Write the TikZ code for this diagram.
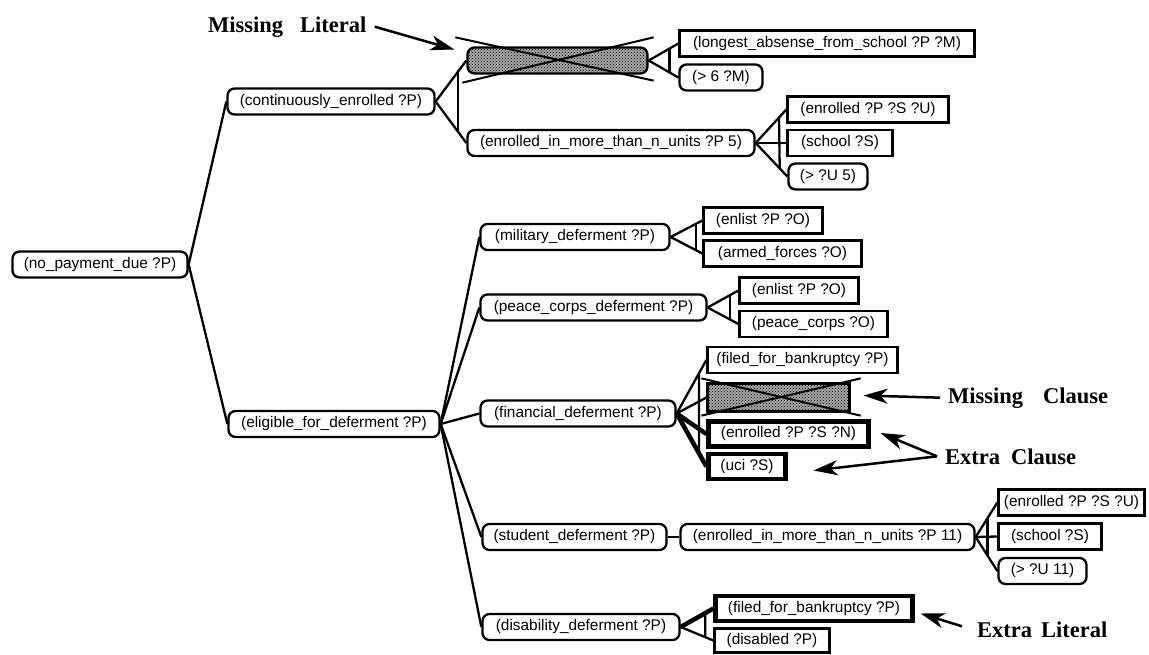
\documentclass[tikz,border=0pt]{standalone}
\usepackage{fontspec}
\setmainfont{Liberation Sans}
\newfontfamily\lblfont{Liberation Serif}
\usetikzlibrary{arrows.meta,calc,patterns}
\begin{document}
\begin{tikzpicture}[x=1pt,y=-1pt,
  every node/.style={font=\fontsize{15.4pt}{18pt}\selectfont, inner xsep=3pt, inner ysep=0pt},
  rbox/.style={draw, line width=2.3pt, rounded corners=7pt, minimum width=#1pt, minimum height=26pt},
  sbox/.style={draw, line width=2.3pt, minimum width=#1pt, minimum height=26pt},
  tbox/.style={draw, line width=4.2pt, minimum width=#1pt, minimum height=25pt},
  shade/.style={draw, line width=2.3pt, fill=gray!70, postaction={pattern=crosshatch dots, pattern color=black}},
  conn/.style={line width=2.3pt},
  tconn/.style={line width=4.5pt},
  xline/.style={line width=2pt},
  lbl/.style={font=\lblfont\bfseries\fontsize{22.5pt}{26pt}\selectfont, inner sep=0pt},
  arr/.style={line width=2.5pt, -{Stealth[length=24pt,width=15pt,inset=7pt]}}
]
\useasboundingbox (0,0) rectangle (1149,654);

% nodes
\node[rbox=175] (np) at (100,264.5) {(no\_payment\_due ?P)};
\node[rbox=207] (ce) at (331,101.5) {(continuously\_enrolled ?P)};
\node[rbox=211] (ef) at (334,424) {(eligible\_for\_deferment ?P)};

\node[shade, rounded corners=7pt, minimum width=180pt, minimum height=26pt] (ml) at (557.5,60.5) {};
\node[sbox=295] (la) at (827,43.5) {(longest\_absense\_from\_school ?P ?M)};
\node[rbox=83] (g6) at (721,77.5) {(> 6 ?M)};
\node[rbox=287] (e5) at (611,143) {(enrolled\_in\_more\_than\_n\_units ?P 5)};
\node[sbox=161] (eu1) at (868,109.5) {(enrolled ?P ?S ?U)};
\node[sbox=105] (s1) at (840,143) {(school ?S)};
\node[rbox=79] (gu5) at (828,176.5) {(> ?U 5)};

\node[rbox=189] (md) at (575,237) {(military\_deferment ?P)};
\node[sbox=119] (en1) at (763,220.5) {(enlist ?P ?O)};
\node[sbox=158] (af) at (782.5,253.5) {(armed\_forces ?O)};

\node[rbox=226] (pc) at (593.5,307.5) {(peace\_corps\_deferment ?P)};
\node[sbox=119] (en2) at (799,290.5) {(enlist ?P ?O)};
\node[sbox=148] (pco) at (813.5,324) {(peace\_corps ?O)};

\node[rbox=195] (fd) at (578,413.5) {(financial\_deferment ?P)};
\node[sbox=190] (fb1) at (802.5,360) {(filed\_for\_bankruptcy ?P)};
\node[shade, minimum width=142pt, minimum height=28pt] (mc) at (778.5,397.5) {};
\node[tbox=160] (en3) at (788.5,434) {(enrolled ?P ?S ?N)};
\node[tbox=77] (uci) at (747,466.5) {(uci ?S)};

\node[rbox=184] (sd) at (574.5,537) {(student\_deferment ?P)};
\node[rbox=294] (e11) at (827.5,537) {(enrolled\_in\_more\_than\_n\_units ?P 11)};
\node[sbox=146] (eu2) at (1071.5,502.5) {(enrolled ?P ?S ?U)};
\node[sbox=103] (s2) at (1050,536.5) {(school ?S)};
\node[rbox=88] (gu11) at (1042.5,571) {(> ?U 11)};

\node[rbox=197] (dd) at (581,627) {(disability\_deferment ?P)};
\node[tbox=197] (fb2) at (814,608.5) {(filed\_for\_bankruptcy ?P)};
\node[sbox=115, minimum height=24pt] (dis) at (772,640.5) {(disabled ?P)};

% cross-out lines on missing items
\draw[xline] ($(ml.north west)+(-11,-9)$) -- ($(ml.south east)+(5,6)$);
\draw[xline] ($(ml.south west)+(-4,8)$) -- ($(ml.north east)+(5,-9)$);
\draw[xline] ($(mc.north west)+(-5,-4)$) -- ($(mc.south east)+(10,3)$);
\draw[xline] ($(mc.south west)+(-5,3)$) -- ($(mc.north east)+(10,-4)$);

% top level
\draw[conn] (np.east) -- (ce.west);
\draw[conn] (np.east) -- (ef.west);

% continuously enrolled (AND)
\draw[conn] (ce.east) -- (ml.west);
\draw[conn] (ce.east) -- (e5.west);
\draw[conn] ($(ce.east)!0.72!(ml.west)$) -- ($(ce.east)!0.72!(e5.west)$);

\draw[conn] (ml.east) -- (la.west);
\draw[conn] (ml.east) -- (g6.west);
\draw[conn] ($(ml.east)!0.7!(la.west)$) -- ($(ml.east)!0.7!(g6.west)$);

\draw[conn] (e5.east) -- (eu1.west);
\draw[conn] (e5.east) -- (s1.west);
\draw[conn] (e5.east) -- (gu5.west);
\draw[conn] ($(e5.east)!0.76!(eu1.west)$) -- ($(e5.east)!0.76!(gu5.west)$);

% eligible for deferment (OR)
\draw[conn] (ef.east) -- (md.west);
\draw[conn] (ef.east) -- (pc.west);
\draw[conn] (ef.east) -- (fd.west);
\draw[conn] (ef.east) -- (sd.west);
\draw[conn] (ef.east) -- (dd.west);

\draw[conn] (md.east) -- (en1.west);
\draw[conn] (md.east) -- (af.west);
\draw[conn] ($(md.east)!0.8!(en1.west)$) -- ($(md.east)!0.8!(af.west)$);

\draw[conn] (pc.east) -- (en2.west);
\draw[conn] (pc.east) -- (pco.west);
\draw[conn] ($(pc.east)!0.72!(en2.west)$) -- ($(pc.east)!0.72!(pco.west)$);

\draw[conn] (fd.east) -- (fb1.west);
\draw[conn] (fd.east) -- (mc.west);
\draw[tconn] (fd.east) -- (en3.west);
\draw[tconn] (fd.east) -- (uci.west);
\draw[conn] ($(fd.east)!0.75!(fb1.west)$) -- ($(fd.east)!0.75!(uci.west)$);

\draw[conn] (sd.east) -- (e11.west);
\draw[conn] (e11.east) -- (eu2.west);
\draw[conn] (e11.east) -- (s2.west);
\draw[conn] (e11.east) -- (gu11.west);
\draw[conn] ($(e11.east)!0.55!(eu2.west)$) -- ($(e11.east)!0.55!(gu11.west)$);

\draw[tconn] (dd.east) -- (fb2.west);
\draw[conn] (dd.east) -- (dis.west);
\draw[conn] ($(dd.east)!0.75!(fb2.west)$) -- ($(dd.east)!0.75!(dis.west)$);

% annotation labels
\node[lbl, anchor=base west] (lML) at (208,32) {Missing\hspace{17pt}Literal};
\node[lbl, anchor=base west] (lMC) at (948,403) {Missing\hspace{20pt}Clause};
\node[lbl, anchor=base west] (lEC) at (945,464) {Extra\hspace{11pt}Clause};
\node[lbl, anchor=base west] (lEL) at (977,637) {Extra\hspace{9pt}Literal};

% annotation arrows
\draw[arr] ($(lML.east)+(8,0)$) -- ($(ml.west)+(-12,-11)$);
\draw[arr] ($(lMC.west)+(-8,0)$) -- ($(mc.east)+(13,-2)$);
\draw[arr] ($(lEC.west)+(-8,0)$) -- ($(en3.east)+(10,-1)$);
\draw[arr] ($(lEC.west)+(-8,0)$) -- ($(uci.east)+(26,4)$);
\draw[arr] ($(lEL.west)+(-15,-3)$) -- ($(fb2.east)+(6,5)$);
\end{tikzpicture}
\end{document}
